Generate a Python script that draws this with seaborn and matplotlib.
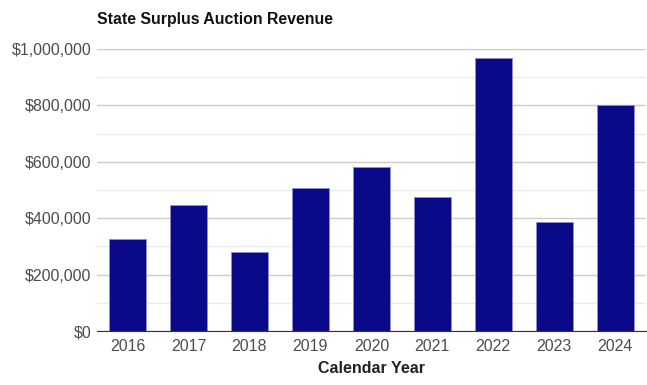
import pandas as pd
import numpy as np
import seaborn as sns
import matplotlib.pyplot as plt
from matplotlib.ticker import FuncFormatter, MultipleLocator

# Values
years = ['2016', '2017', '2018', '2019', '2020', '2021', '2022', '2023', '2024']
revenue = [325000, 446000, 279000, 506000, 580000, 474000, 969000, 385000, 802000]

df = pd.DataFrame({'year': years, 'revenue': revenue})

sns.set_style('white')
plt.rcParams['font.family'] = ['Liberation Sans', 'DejaVu Sans']

fig = plt.figure(figsize=(6.47, 3.85), dpi=100)
ax = fig.add_axes([0.150, 0.140, 0.848, 0.733])

sns.barplot(data=df, x='year', y='revenue', color='#0a0a88', width=0.61,
            saturation=1, edgecolor='#8f8fd0', linewidth=0.6, ax=ax, zorder=3)

ax.set_ylim(0, 1000000)
ax.set_xlim(-0.5, 8.5)
ax.yaxis.set_major_locator(MultipleLocator(200000))
ax.yaxis.set_minor_locator(MultipleLocator(100000))
ax.yaxis.set_major_formatter(FuncFormatter(lambda v, p: f'${v:,.0f}'))
ax.grid(axis='y', which='major', color='#cccccc', linewidth=1, zorder=0)
ax.grid(axis='y', which='minor', color='#ebebeb', linewidth=1, zorder=0)
ax.set_axisbelow(True)

for s in ['top', 'right', 'left']:
    ax.spines[s].set_visible(False)
ax.spines['bottom'].set_color('#333333')
ax.spines['bottom'].set_zorder(4)

ax.tick_params(axis='both', which='both', length=0, labelsize=11.5, labelcolor='#4d4d4d')
ax.tick_params(axis='y', pad=4)
ax.tick_params(axis='x', pad=6)

ax.set_ylabel('')
ax.set_xlabel('Calendar Year', fontsize=11.5, fontweight='bold', color='#222222', labelpad=5)
fig.text(0.150, 0.950, 'State Surplus Auction Revenue', fontsize=11.4,
         fontweight='bold', color='#111111', ha='left', va='center')

fig.savefig('out.png', dpi=100)
